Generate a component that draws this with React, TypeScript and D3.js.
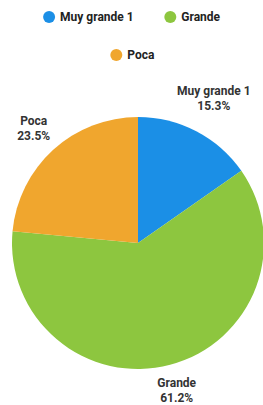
import React, { useEffect, useRef } from "react";
import * as d3 from "d3";

const categories = ["Muy grande 1", "Grande", "Poca"];
const values = [15.3, 61.2, 23.5];
const colors = ["#1b8fe6", "#8dc63f", "#f0a62e"];
const legendRows = [["Muy grande 1", "Grande"], ["Poca"]];

export default function App() {
  const ref = useRef<SVGSVGElement>(null);

  useEffect(() => {
    const svg = d3.select(ref.current);
    svg.selectAll("*").remove();

    const width = 263;
    const cx = 138, cy = 243, r = 126;
    const font = "Roboto, sans-serif";
    const color = d3.scaleOrdinal<string, string>().domain(categories).range(colors);

    // legend
    const legend = svg.append("g").attr("font-family", font).attr("font-size", 12).attr("font-weight", 700);
    legendRows.forEach((row, i) => {
      const items = row.map((name) => ({ name, w: name.length * 6.6 + 22 }));
      const gap = 20;
      const total = d3.sum(items, (d) => d.w) + gap * (items.length - 1);
      let x = width / 2 - total / 2 + 3;
      const y = 17 + i * 38;
      items.forEach((it) => {
        legend.append("circle").attr("cx", x + 6).attr("cy", y).attr("r", 6).attr("fill", color(it.name));
        legend.append("text").attr("x", x + 17).attr("y", y).attr("dy", "0.35em").attr("fill", "#222").text(it.name);
        x += it.w + gap;
      });
    });

    const data = categories.map((c, i) => ({ name: c, value: values[i] }));
    const pie = d3.pie<any>().value((d) => d.value).sort(null);
    const arc = d3.arc<any>().innerRadius(0).outerRadius(r);
    const arcs = pie(data);

    const g = svg.append("g").attr("transform", `translate(${cx},${cy})`);
    g.selectAll("path").data(arcs).join("path")
      .attr("d", arc)
      .attr("fill", (d) => color(d.data.name));

    // outside labels (distance from centre per slice)
    const labelDist = [164, 152, 155];
    const lab = svg.append("g").attr("font-family", font).attr("font-size", 12).attr("font-weight", 700)
      .attr("fill", "#333").attr("text-anchor", "middle");
    arcs.forEach((d, i) => {
      const mid = (d.startAngle + d.endAngle) / 2;
      const x = cx + Math.sin(mid) * labelDist[i];
      const y = cy - Math.cos(mid) * labelDist[i];
      const t = lab.append("text").attr("x", x).attr("y", y - 3);
      t.append("tspan").attr("x", x).text(d.data.name);
      t.append("tspan").attr("x", x).attr("dy", 15).text(`${d.data.value.toFixed(1)}%`);
    });
  }, []);

  return <svg ref={ref} width={263} height={405} style={{ position: "absolute", left: 0, top: 0 }} />;
}
